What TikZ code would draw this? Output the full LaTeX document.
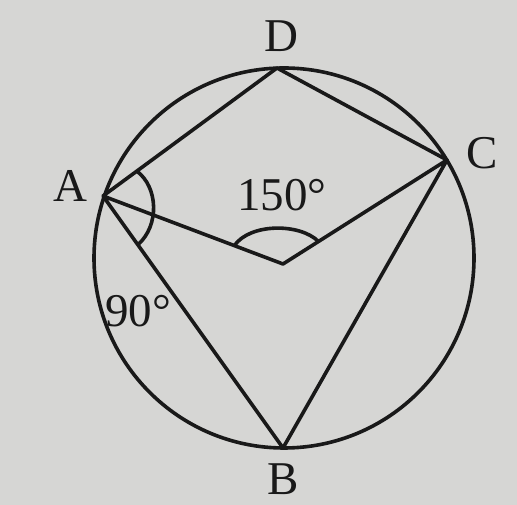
\documentclass[tikz,border=0pt]{standalone}
\usepackage{fontspec}
\setmainfont{Liberation Serif}
\usetikzlibrary{calc}
\definecolor{paper}{RGB}{214,214,212}
\definecolor{ink}{RGB}{25,25,25}
\tikzset{
  edge/.style={draw=ink,line width=3.6pt,line join=round},
  lbl/.style={text=ink,font=\fontsize{47}{47}\selectfont,inner sep=0pt},
}
\begin{document}
\begin{tikzpicture}[x=1pt,y=1pt]
\fill[paper] (0,0) rectangle (517,505);
\useasboundingbox (0,0) rectangle (517,505);
\coordinate (Oc) at (284,247);
\coordinate (A) at (103,309);
\coordinate (D) at (277,437);
\coordinate (C) at (447,345);
\coordinate (B) at (283,57);
\coordinate (O) at (283,241);
\draw[edge] (Oc) circle[radius=190];
\draw[edge] (A) -- (D) -- (C) -- (O) -- (A) -- (B) -- (C);
% angle marks
\draw[edge] ($(A)!42pt!(D)$) .. controls (158,318) and (160,280) .. ($(A)!60pt!(B)$);
\draw[edge] ($(O)!52pt!(A)$) .. controls (250,282) and (300,282) .. ($(O)!42pt!(C)$);
\node[lbl] (lD) at (281,469) {D};
\node[lbl] (lC) at (482,352) {C};
\node[lbl] (lA) at (70,319) {A};
\node[lbl] (lB) at (283,26) {B};
\node[lbl] (l150) at (282,310) {150°};
\node[lbl] (l90) at (138,194) {90°};
\end{tikzpicture}
\end{document}
